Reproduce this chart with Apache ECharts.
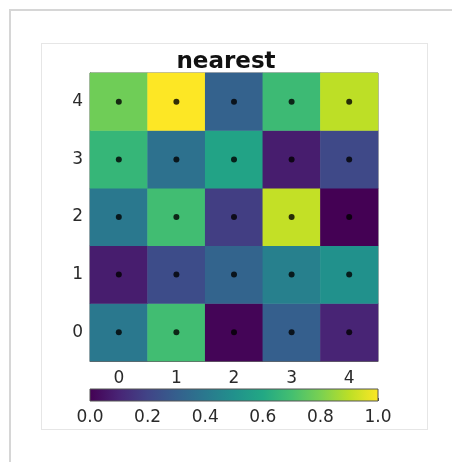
<!DOCTYPE html>
<html>
<head>
<meta charset="utf-8">
<script src="https://cdn.jsdelivr.net/npm/echarts@6/dist/echarts.min.js"></script>
<style>
  html, body { margin: 0; padding: 0; background: #fff; }
  #outer { position: absolute; left: 9px; top: 9px; width: 480px; height: 480px; border: 2px solid #d6d6d6; }
  #inner { position: absolute; left: 41px; top: 43px; width: 385px; height: 385px; border: 1px solid #e6e6e6; }
  #chart { position: absolute; left: 0; top: 0; width: 452px; height: 462px; }
</style>
</head>
<body>
<div id="outer"></div>
<div id="inner"></div>
<div id="chart"></div>
<script>
// Grid coordinates
const xCats = ['0', '1', '2', '3', '4'];
const yCats = ['0', '1', '2', '3', '4'];

// Cell values, one array per row (row 0 at the bottom)
const row0 = [0.40, 0.69, 0.01, 0.30, 0.10];
const row1 = [0.08, 0.23, 0.32, 0.43, 0.50];
const row2 = [0.40, 0.69, 0.18, 0.91, 0.00];
const row3 = [0.66, 0.37, 0.58, 0.08, 0.22];
const row4 = [0.78, 1.00, 0.31, 0.68, 0.90];
const rows = [row0, row1, row2, row3, row4];

// Colorbar tick values
const barTicks = [0.0, 0.2, 0.4, 0.6, 0.8, 1.0];

// viridis colormap stops
const viridis = ['#440154', '#482475', '#414487', '#355f8d', '#2a788e', '#21918c',
                 '#22a884', '#44bf70', '#7ad151', '#bddf26', '#fde725'];

const cells = [];
const dots = [];
rows.forEach((r, yi) => r.forEach((v, xi) => {
  cells.push([xi, yi, v]);
  dots.push([xi, yi]);
}));

const labelFont = { fontFamily: 'DejaVu Sans', fontSize: 17, color: '#2a2a2a' };

const chart = echarts.init(document.getElementById('chart'), null, { renderer: 'canvas' });
chart.setOption({
  backgroundColor: 'transparent',
  animation: false,
  title: {
    text: 'nearest',
    left: 'center',
    top: 46,
    textStyle: { fontFamily: 'DejaVu Sans', fontWeight: 'bold', fontSize: 23, color: '#111' }
  },
  visualMap: {
    show: false,
    type: 'continuous',
    min: 0,
    max: 1,
    dimension: 2,
    seriesIndex: 0,
    inRange: { color: viridis }
  },
  grid: [
    { left: 90, top: 73, width: 288, height: 288, show: true, borderColor: '#666', borderWidth: 1, backgroundColor: 'transparent' },
    { left: 90, top: 389, width: 288, height: 12 }
  ],
  xAxis: [
    {
      gridIndex: 0, type: 'category', data: xCats, boundaryGap: true,
      axisLine: { show: true, lineStyle: { color: '#666' } },
      axisTick: { alignWithLabel: true, length: 4, lineStyle: { color: '#444' } },
      axisLabel: Object.assign({ margin: 9 }, labelFont),
      splitLine: { show: false }
    },
    {
      gridIndex: 1, type: 'value', min: 0, max: 1, interval: 0.2,
      axisLine: { show: false },
      axisTick: { show: true, inside: true, length: 3, lineStyle: { color: '#444' } },
      axisLabel: Object.assign({ margin: 8, formatter: v => v.toFixed(1) }, labelFont),
      splitLine: { show: false }
    }
  ],
  yAxis: [
    {
      gridIndex: 0, type: 'category', data: yCats, boundaryGap: true,
      axisLine: { show: true, lineStyle: { color: '#666' } },
      axisTick: { alignWithLabel: true, length: 4, lineStyle: { color: '#444' } },
      axisLabel: Object.assign({ margin: 7 }, labelFont),
      splitLine: { show: false }
    },
    { gridIndex: 1, type: 'value', min: 0, max: 1, show: false }
  ],
  series: [
    {
      type: 'heatmap',
      xAxisIndex: 0, yAxisIndex: 0,
      data: cells,
      itemStyle: { borderWidth: 0 },
      emphasis: { disabled: true }
    },
    {
      type: 'scatter',
      xAxisIndex: 0, yAxisIndex: 0,
      data: dots,
      symbol: 'circle',
      symbolSize: 6,
      itemStyle: { color: '#000' },
      z: 5
    },
    {
      // colorbar strip spanning 0..1 on its own axis
      type: 'custom',
      xAxisIndex: 1, yAxisIndex: 1,
      data: [[0, 0, 1, 1]],
      clip: false,
      renderItem: function (params, api) {
        const p0 = api.coord([api.value(0), api.value(1)]);
        const p1 = api.coord([api.value(2), api.value(3)]);
        return {
          type: 'rect',
          shape: { x: p0[0], y: p1[1], width: p1[0] - p0[0], height: p0[1] - p1[1] },
          style: {
            fill: new echarts.graphic.LinearGradient(0, 0, 1, 0,
              viridis.map((c, i) => ({ offset: i / (viridis.length - 1), color: c }))),
            stroke: '#555',
            lineWidth: 1
          }
        };
      }
    }
  ]
});
</script>
</body>
</html>
